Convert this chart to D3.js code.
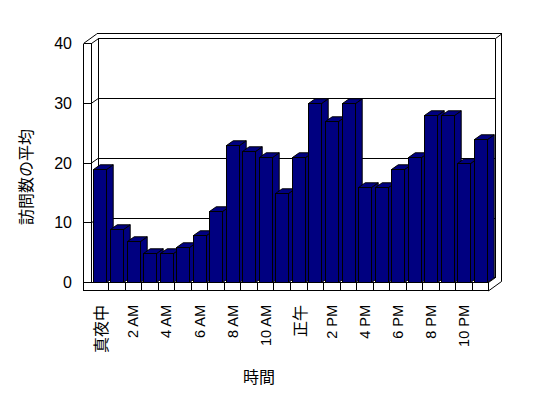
<!DOCTYPE html>
<html><head><meta charset="utf-8">
<script src="https://cdn.jsdelivr.net/npm/d3@7"></script>
<style>body{margin:0;background:#fff}svg{display:block}</style>
</head><body>
<script>
const hours = ["真夜中","1 AM","2 AM","3 AM","4 AM","5 AM","6 AM","7 AM","8 AM","9 AM","10 AM","11 AM",
               "正午","1 PM","2 PM","3 PM","4 PM","5 PM","6 PM","7 PM","8 PM","9 PM","10 PM","11 PM"];
const visits = [19,9,7,5,5,6,8,12,23,22,21,15,21,30,27,30,16,16,19,21,28,28,20,24];
const yTicks = [0,10,20,30,40];
const xTickLabels = ["真夜中","2 AM","4 AM","6 AM","8 AM","10 AM","正午","2 PM","4 PM","6 PM","8 PM","10 PM"];
const yTitle = "訪問数の平均";
const xTitle = "時間";

const W = 548, H = 398;
const svg = d3.select("body").append("svg").attr("width", W).attr("height", H);

const x0 = 91.5, x1 = 488.5, outerL = 83.5;
const y = d3.scaleLinear().domain([0,40]).range([282.5, 43.5]);
const x = d3.scaleBand().domain(hours).range([x0, x1]).paddingInner(0.232).paddingOuter(0.116);
const dx = 6.7, dy = -4.7;        // depth of bars / inner walls
const dx2 = 13.3, dy2 = -9.6;     // outer wall depth
const floorH = 8.4;
const y0 = y(0), yTop = y(40), yBot = y0 + floorH;
const navy = "#000080";
const g = svg.append("g").attr("fill","none").attr("stroke","#000").attr("stroke-width",1);
const L = (a,b,c,d) => g.append("line").attr("x1",a).attr("y1",b).attr("x2",c).attr("y2",d)
  .attr("shape-rendering", (a===c||b===d) ? "crispEdges" : "auto");

// Walls outlines
L(x0+dx, yTop+dy, x1+dx, yTop+dy);              // back wall inner top
L(outerL+dx2, yTop+dy2, x1+dx2, yTop+dy2);      // back wall outer top
L(x1+dx, yTop+dy, x1+dx2, yTop+dy2);            // right end top
L(x1+dx, yTop+dy, x1+dx, y0+dy);                // back wall right inner edge
L(x1+dx2, yTop+dy2, x1+dx2, yBot+dy2);          // back wall right outer edge
L(outerL, yTop, outerL+dx2, yTop+dy2);          // left wall outer top
L(x0, yTop, x0+dx, yTop+dy);                    // left wall inner top
L(outerL, yTop, x0, yTop);
L(outerL, yTop, outerL, yBot);                  // left wall front face
L(x0, yTop, x0, y0);
L(x0+dx, yTop+dy, x0+dx, y0+dy);                // back wall left edge
L(x0+dx, y0+dy, x1+dx, y0+dy);                  // floor back edge
// floor
L(x0, y0, x1, y0);
L(outerL, yBot, x1, yBot);
L(x1, y0, x1, yBot);
L(x1, y0, x1+dx, y0+dy);
L(x1, yBot, x1+dx2, yBot+dy2);
// category ticks across floor front face
const step = x.step();
d3.range(1, hours.length).forEach(i => { const xx = Math.round(x0 + i*step) + 0.5; L(xx, y0, xx, yBot); });

// gridlines and ticks
yTicks.forEach(v => {
  const yy = y(v);
  L(outerL, yy, x0, yy);
  if (v > 0 && v < 40) {
    L(x0, yy, x0+dx, yy+dy);
    L(x0+dx, yy+dy, x1+dx, yy+dy);
  }
});

// bars
const bars = svg.append("g").attr("stroke","#000").attr("stroke-width",1).attr("stroke-linejoin","round");
hours.forEach((h,i) => {
  const bx = Math.round(x(h)) + 0.5, bw = Math.round(x.bandwidth()), yv = Math.round(y(visits[i])) + 0.5;
  const gb = bars.append("g");
  gb.append("polygon").attr("fill", navy)
    .attr("points", [[bx+bw,yv],[bx+bw+dx,yv+dy],[bx+bw+dx,y0+dy],[bx+bw,y0]].join(" "));
  gb.append("polygon").attr("fill", navy)
    .attr("points", [[bx,yv],[bx+bw,yv],[bx+bw+dx,yv+dy],[bx+dx,yv+dy]].join(" "));
  gb.append("rect").attr("fill", navy).attr("shape-rendering","crispEdges")
    .attr("x", bx).attr("y", yv).attr("width", bw).attr("height", y0-yv);
});

// y tick labels
svg.append("g").selectAll("text").data(yTicks).join("text")
  .attr("x", 72).attr("y", d => y(d)).attr("dy","0.35em")
  .attr("text-anchor","end").attr("font-family","Liberation Sans, Arial, sans-serif")
  .attr("font-size",16).text(d => d);

// x tick labels
const cjk = s => /[^\x00-\x7F]/.test(s);
svg.append("g").selectAll("text").data(xTickLabels).join("text")
  .attr("transform", d => `translate(${x(d) + x.bandwidth()/2 + 0.5},305) rotate(-90)`)
  .attr("text-anchor","end").attr("dominant-baseline","central")
  .attr("font-family", d => cjk(d) ? "Noto Sans CJK JP" : "Liberation Sans, Arial, sans-serif")
  .attr("font-size", d => cjk(d) ? 16 : 14.5)
  .text(d => d);

// axis titles
svg.append("text").attr("transform","translate(25,177) rotate(-90)")
  .attr("text-anchor","middle").attr("dominant-baseline","central")
  .attr("font-family","Noto Sans CJK JP").attr("font-size",16).text(yTitle);
svg.append("text").attr("x",259).attr("y",376)
  .attr("text-anchor","middle").attr("dominant-baseline","central")
  .attr("font-family","Noto Sans CJK JP").attr("font-size",16).text(xTitle);
</script>
</body></html>
